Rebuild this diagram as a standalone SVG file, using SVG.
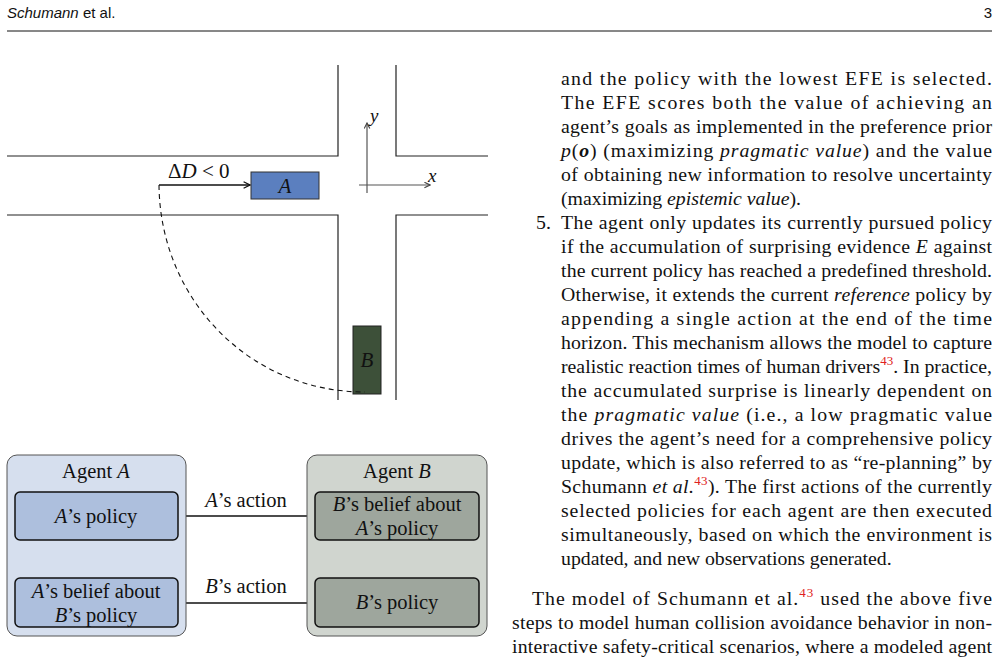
<svg xmlns="http://www.w3.org/2000/svg" width="999" height="658" viewBox="0 0 999 658">
<style>
text{font-family:"Liberation Serif",serif;font-size:16px;fill:#111}
.t{font-size:19.8px}
.i{font-style:italic}
.r{fill:#e02020;font-size:13px}
.road{stroke:#222;stroke-width:1.2;fill:none}
.in{stroke:#111;stroke-width:1.5}
.c{stroke:#111;stroke-width:1.5;fill:none}
.m{text-anchor:middle;font-size:20.5px}
</style>
<defs>
<marker id="ah" viewBox="0 0 10 10" refX="9" refY="5" markerWidth="8" markerHeight="8" markerUnits="userSpaceOnUse" orient="auto"><path d="M1 1 L9 5 L1 9" fill="none" stroke="#111" stroke-width="1.6"/></marker>
<marker id="ag" viewBox="0 0 10 10" refX="9" refY="5" markerWidth="7" markerHeight="7" markerUnits="userSpaceOnUse" orient="auto"><path d="M1 1 L9 5 L1 9" fill="none" stroke="#444" stroke-width="1.6"/></marker>
</defs>
<text x="7" y="18" style="font-family:'Liberation Sans',sans-serif;font-size:15px"><tspan class="i">Schumann</tspan> et al.</text>
<text x="992" y="18" text-anchor="end" style="font-family:'Liberation Sans',sans-serif;font-size:15px">3</text>
<line x1="7" y1="31" x2="992" y2="31" stroke="#111" stroke-width="1"/>
<g id="roads">
<path class="road" d="M7 156 H338 V65 M396 65 V156 H488 M7 215 H338 V400 M396 400 V215 H488"/>
</g>
<g id="axes">
<line x1="367" y1="193" x2="367" y2="123" stroke="#555" stroke-width="1.2" marker-end="url(#ag)"/>
<line x1="359" y1="185" x2="430" y2="185" stroke="#555" stroke-width="1.2" marker-end="url(#ag)"/>
<text x="370" y="122" class="i" style="font-size:19px">y</text>
<text x="428" y="182" class="i" style="font-size:19px">x</text>
</g>
<g id="carA"><rect x="251" y="172" width="68" height="27" fill="#5b7fbf" stroke="#333"/><text x="285" y="193" class="i m" style="font-size:21px">A</text></g>
<g id="carB"><rect x="353" y="326" width="28" height="68" fill="#3d5039" stroke="#222"/><text x="367" y="367" class="i m" style="font-size:21px">B</text></g>
<g id="connectors">
<line x1="159" y1="185" x2="250" y2="185" class="c" marker-end="url(#ah)"/>
<path d="M159 185 C160 300 250 392 365 392" fill="none" stroke="#111" stroke-width="1.1" stroke-dasharray="5 4"/>
<line x1="96" y1="578" x2="96" y2="541" class="c" marker-end="url(#ah)"/>
<line x1="397" y1="540" x2="397" y2="577" class="c" marker-end="url(#ah)"/>
<line x1="178" y1="516" x2="314" y2="516" class="c" marker-end="url(#ah)"/>
<line x1="315" y1="603" x2="179" y2="603" class="c" marker-end="url(#ah)"/>
</g>
<text x="168" y="178" style="font-size:21px">Δ<tspan class="i">D</tspan> &lt; 0</text>
<g id="agentA">
<rect x="7" y="455" width="179" height="181" rx="10" fill="#d6dfee" stroke="#555"/>
<text x="96" y="478" class="m">Agent <tspan class="i">A</tspan></text>
</g>
<g id="aPolicy"><rect x="15" y="492" width="163" height="48" rx="5" fill="#adbfdd" class="in"/><text x="96" y="523" class="m"><tspan class="i">A</tspan>’s policy</text></g>
<g id="aBelief"><rect x="15" y="578" width="163" height="49" rx="5" fill="#adbfdd" class="in"/><text x="96" y="598" class="m"><tspan class="i">A</tspan>’s belief about</text><text x="96" y="622" class="m"><tspan class="i">B</tspan>’s policy</text></g>
<g id="agentB">
<rect x="307" y="455" width="180" height="181" rx="10" fill="#d0d5cf" stroke="#555"/>
<text x="397" y="478" class="m">Agent <tspan class="i">B</tspan></text>
</g>
<g id="bBelief"><rect x="315" y="492" width="164" height="48" rx="5" fill="#9ea69d" class="in"/><text x="397" y="511" class="m"><tspan class="i">B</tspan>’s belief about</text><text x="397" y="535" class="m"><tspan class="i">A</tspan>’s policy</text></g>
<g id="bPolicy"><rect x="315" y="578" width="164" height="49" rx="5" fill="#9ea69d" class="in"/><text x="397" y="609" class="m"><tspan class="i">B</tspan>’s policy</text></g>
<text x="246" y="507" class="m"><tspan class="i">A</tspan>’s action</text>
<text x="246" y="593" class="m"><tspan class="i">B</tspan>’s action</text>
<g id="body">
<text class="t" x="561" y="85" textLength="431" lengthAdjust="spacing">and the policy with the lowest EFE is selected.</text>
<text class="t" x="561" y="109" textLength="431" lengthAdjust="spacing">The EFE scores both the value of achieving an</text>
<text class="t" x="561" y="133" textLength="431" lengthAdjust="spacing">agent’s goals as implemented in the preference prior</text>
<text class="t" x="561" y="157" textLength="431" lengthAdjust="spacing"><tspan class="i">p</tspan>(<tspan class="i" font-weight="bold">o</tspan>) (maximizing <tspan class="i">pragmatic value</tspan>) and the value</text>
<text class="t" x="561" y="181" textLength="431" lengthAdjust="spacing">of obtaining new information to resolve uncertainty</text>
<text class="t" x="561" y="205">(maximizing <tspan class="i">epistemic value</tspan>).</text>
<text class="t" x="536" y="229">5.</text>
<text class="t" x="561" y="229" textLength="431" lengthAdjust="spacing">The agent only updates its currently pursued policy</text>
<text class="t" x="561" y="253" textLength="431" lengthAdjust="spacing">if the accumulation of surprising evidence <tspan class="i">E</tspan> against</text>
<text class="t" x="561" y="277" textLength="431" lengthAdjust="spacing">the current policy has reached a predefined threshold.</text>
<text class="t" x="561" y="301" textLength="431" lengthAdjust="spacing">Otherwise, it extends the current <tspan class="i">reference</tspan> policy by</text>
<text class="t" x="561" y="325" textLength="431" lengthAdjust="spacing">appending a single action at the end of the time</text>
<text class="t" x="561" y="349" textLength="431" lengthAdjust="spacing">horizon. This mechanism allows the model to capture</text>
<text class="t" x="561" y="373" textLength="431" lengthAdjust="spacing">realistic reaction times of human drivers<tspan class="r" dy="-8">43</tspan><tspan dy="8">. In practice,</tspan></text>
<text class="t" x="561" y="397" textLength="431" lengthAdjust="spacing">the accumulated surprise is linearly dependent on</text>
<text class="t" x="561" y="421" textLength="431" lengthAdjust="spacing">the <tspan class="i">pragmatic value</tspan> (i.e., a low pragmatic value</text>
<text class="t" x="561" y="445" textLength="431" lengthAdjust="spacing">drives the agent’s need for a comprehensive policy</text>
<text class="t" x="561" y="469" textLength="431" lengthAdjust="spacing">update, which is also referred to as “re-planning” by</text>
<text class="t" x="561" y="493" textLength="431" lengthAdjust="spacing">Schumann <tspan class="i">et al.</tspan><tspan class="r" dy="-8">43</tspan><tspan dy="8">). The first actions of the currently</tspan></text>
<text class="t" x="561" y="517" textLength="431" lengthAdjust="spacing">selected policies for each agent are then executed</text>
<text class="t" x="561" y="541" textLength="431" lengthAdjust="spacing">simultaneously, based on which the environment is</text>
<text class="t" x="561" y="565">updated, and new observations generated.</text>
<text class="t" x="532" y="605" textLength="460" lengthAdjust="spacing">The model of Schumann et al.<tspan class="r" dy="-8">43</tspan><tspan dy="8"> used the above five</tspan></text>
<text class="t" x="512" y="629" textLength="480" lengthAdjust="spacing">steps to model human collision avoidance behavior in non-</text>
<text class="t" x="512" y="653" textLength="480" lengthAdjust="spacing">interactive safety-critical scenarios, where a modeled agent</text>
</g>
</svg>
